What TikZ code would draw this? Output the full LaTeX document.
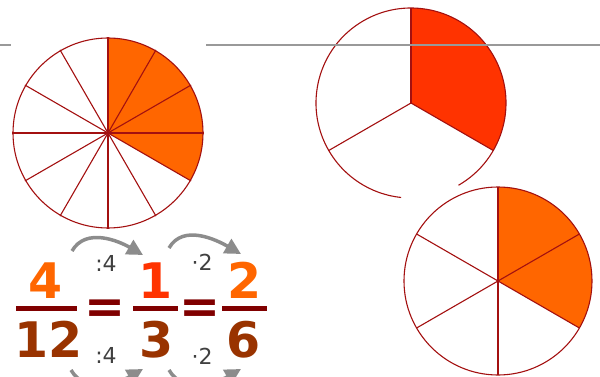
\documentclass[tikz,border=0pt]{standalone}
\usepackage{fontspec}
\setmainfont{DejaVu Sans}
\usetikzlibrary{arrows.meta, positioning}
\definecolor{pieorange}{HTML}{FF6600}
\definecolor{piered}{HTML}{FF3300}
\definecolor{pieline}{HTML}{A31010}
\definecolor{fracbrown}{HTML}{993300}
\definecolor{barmaroon}{HTML}{800000}
\definecolor{opgray}{HTML}{404040}
\definecolor{arrgray}{HTML}{8C8C8C}
\definecolor{rulegray}{HTML}{999999}

\begin{document}
\begin{tikzpicture}[x=1pt, y=1pt,
  slice/.style={draw=pieline, line width=1.1pt},
  num/.style={anchor=base, inner sep=0pt, font=\fontsize{49}{50}\selectfont\bfseries},
  bar/.style={fill=barmaroon, minimum height=5pt, inner sep=0pt},
  eqsign/.style={anchor=base, inner sep=0pt, text=barmaroon, font=\fontsize{49}{50}\selectfont\bfseries},
  op/.style={inner sep=0pt, text=opgray, font=\fontsize{22}{24}\selectfont},
  jump/.style={-{Triangle[length=16pt, width=16pt]}, draw=arrgray, line width=3.5pt}]
\useasboundingbox (0,0) rectangle (600,-377);
\clip (0,0) rectangle (600,-377);
% pie centres
\coordinate (p1) at (108,-133);
\coordinate (p2) at (411,-103);
\coordinate (p3) at (498,-281);
% twelfths
\fill[pieorange] (p1) -- ++(90:95) arc[start angle=90, end angle=-30, radius=95] -- cycle;
\foreach \a in {0,30,...,330} \draw[slice] (p1) -- ++(\a:96);
\draw[slice] (p1) circle[radius=95];
% thirds
\fill[piered] (p2) -- ++(90:95) arc[start angle=90, end angle=-30, radius=95] -- cycle;
\foreach \a in {90,-30,210} \draw[slice] (p2) -- ++(\a:95);
\draw[slice] (p2) ++(-60:95) arc[start angle=-60, end angle=264, radius=95];
% grey rule
\draw[rulegray, line width=2pt] (0,-45) -- (11,-45) (206,-45) -- (600,-45);
% sixths
\fill[pieorange] (p3) -- ++(90:94) arc[start angle=90, end angle=-30, radius=94] -- cycle;
\foreach \a in {90,30,-30,-90,210,150} \draw[slice] (p3) -- ++(\a:94);
\draw[slice] (p3) circle[radius=94];
% fractions
\node[bar, minimum width=61pt] (bar1) at (46.5,-308) {};
\node[bar, minimum width=45pt] (bar2) at (155.5,-308) {};
\node[bar, minimum width=45pt] (bar3) at (244.5,-308) {};
\node[num, text=pieorange] (n1) at (46,-298) {4};
\node[num, text=fracbrown] (d1) at (48.5,-357) {12};
\node[num, text=piered] (n2) at (156,-298) {1};
\node[num, text=fracbrown] (d2) at (157,-357) {3};
\node[num, text=pieorange] (n3) at (245,-298) {2};
\node[num, text=fracbrown] (d3) at (244,-357) {6};
\node[eqsign] (eq1) at (105,-323) {=};
\node[eqsign] (eq2) at (200,-323) {=};
% operators
\node[op] (div1) at (106,-263) {:4};
\node[op] (div2) at (106,-355) {:4};
\node[op] (mul1) at (202,-262) {·2};
\node[op] (mul2) at (202,-356) {·2};
\coordinate (t1s) at (72,-251);
\coordinate (t1e) at (143,-255);
\coordinate (t2s) at (169,-248);
\coordinate (t2e) at (241,-254);
\coordinate (b1s) at (71,-370);
\coordinate (b1e) at (143,-369);
\coordinate (b2s) at (169,-370);
\coordinate (b2e) at (241,-369);
\draw[jump] (t1s) to[out=60, in=150] (t1e);
\draw[jump] (t2s) to[out=60, in=150] (t2e);
\draw[jump] (b1s) to[out=-60, in=-150] (b1e);
\draw[jump] (b2s) to[out=-60, in=-150] (b2e);
\end{tikzpicture}
\end{document}
